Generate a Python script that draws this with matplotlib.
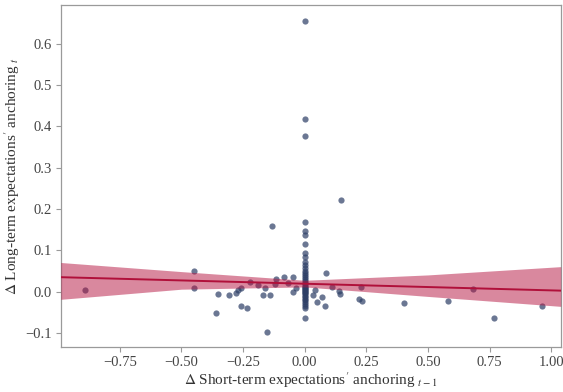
import numpy as np
import matplotlib
matplotlib.use('Agg')
import matplotlib.pyplot as plt

plt.rcParams['font.family'] = ['Liberation Serif', 'DejaVu Serif']
plt.rcParams['mathtext.fontset'] = 'stix'

# scatter points (short-term change, long-term change)
x_off = [-0.892, -0.449, -0.449, -0.358, -0.353, -0.308, -0.28, -0.27, -0.257,
         -0.259, -0.234, -0.223, -0.189, -0.171, -0.161, -0.153, -0.142, -0.131,
         -0.118, -0.119, -0.084, -0.066, -0.046, -0.047, -0.034,
         0.034, 0.041, 0.05, 0.068, 0.081, 0.085, 0.112, 0.139, 0.145, 0.146,
         0.227, 0.22, 0.232, 0.401, 0.582, 0.682, 0.767, 0.962]
y_off = [0.004, 0.051, 0.009, -0.050, -0.006, -0.008, -0.003, 0.005, 0.010,
         -0.034, -0.038, 0.025, 0.016, -0.007, 0.010, -0.097, -0.008, 0.159,
         0.032, 0.019, 0.035, 0.022, 0.036, -0.001, 0.009,
         -0.007, 0.005, -0.025, -0.013, -0.033, 0.045, 0.011, 0.001, -0.005, 0.222,
         0.011, -0.017, -0.021, -0.026, -0.023, 0.007, -0.062, -0.035]

# points sitting on x = 0
y_zero = [0.655, 0.418, 0.377, 0.168, 0.146, 0.138, 0.115, 0.095, 0.084, 0.073,
          0.065, 0.058, 0.05, 0.045, 0.04, 0.035, 0.03, 0.027, 0.022, 0.018,
          0.015, 0.012, 0.01, 0.007, 0.005, 0.003, 0.0, -0.003, -0.006, -0.01,
          -0.013, -0.017, -0.02, -0.025, -0.03, -0.035, -0.04, -0.064]
x_zero = [0.0] * len(y_zero)

# fitted line and confidence band
band_x = [-0.989, -0.5, 0.0, 0.5, 1.038]
band_mid = [0.0355, 0.0277, 0.0197, 0.0117, 0.003]
band_lo = [-0.018, 0.0065, 0.012, -0.011, -0.035]
band_hi = [0.071, 0.049, 0.028, 0.041, 0.061]

xs = x_off + x_zero
ys = y_off + y_zero

fig = plt.figure(figsize=(5.63, 3.92), dpi=100)
ax = fig.add_axes([0.108, 0.115, 0.888, 0.872])

ax.scatter(xs, ys, s=20, color='#2c3e66', alpha=0.7, linewidths=0, zorder=2)
ax.fill_between(band_x, band_lo, band_hi, color='#b5123f', alpha=0.5, linewidth=0, zorder=3)
ax.plot(band_x, band_mid, color='#b0103a', lw=1.4, zorder=4)

ax.set_xlim(-0.989, 1.038)
ax.set_ylim(-0.133, 0.693)
ax.set_xticks([-0.75, -0.5, -0.25, 0.0, 0.25, 0.5, 0.75, 1.0])
ax.set_yticks([-0.1, 0.0, 0.1, 0.2, 0.3, 0.4, 0.5, 0.6])
ax.set_yticklabels(['\u22120.1', '0.0', '0.1', '0.2', '0.3', '0.4', '0.5', '0.6'])
ax.set_xticklabels(['\u22120.75', '\u22120.50', '\u22120.25', '0.00', '0.25', '0.50', '0.75', '1.00'])

for s in ax.spines.values():
    s.set_color('#9a9a9a')
    s.set_linewidth(0.9)
ax.tick_params(colors='#9a9a9a', labelcolor='#444444', labelsize=10.5, length=3.5, width=0.8, pad=3)

ax.set_xlabel(r"$\Delta$ Short-term expectations$'$ anchoring $_{t-1}$", fontsize=11, color='#333333', labelpad=1)
ax.set_ylabel(r"$\Delta$ Long-term expectations$'$ anchoring $_{t}$", fontsize=11, color='#333333', labelpad=2)

fig.savefig('out.png', dpi=100)
